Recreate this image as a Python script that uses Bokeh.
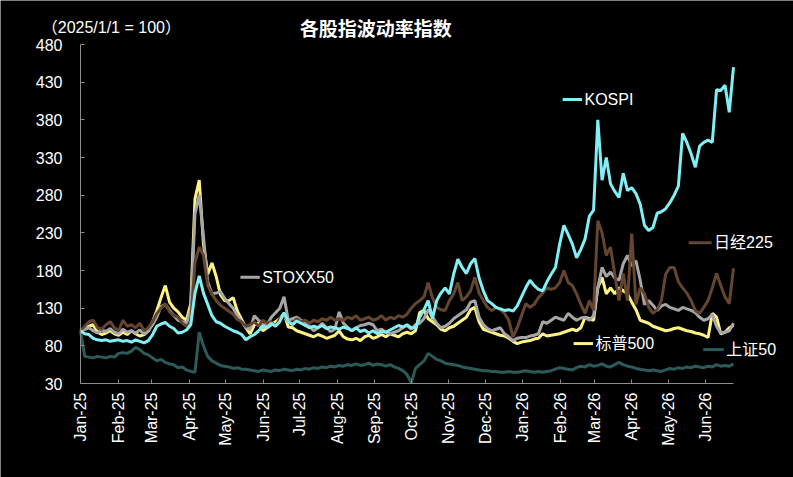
import pandas as pd
from math import pi
from bokeh.plotting import figure
from bokeh.models import (Range1d, FixedTicker, DatetimeTickFormatter, Label,
                          DatetimeAxis, LinearAxis)
from bokeh.embed import file_html
from bokeh.resources import INLINE

# ---------------- data (readings twice a week, 2025/1/1 = 100) ----------------
dates = pd.date_range("2025-01-01", periods=155, freq="84h")

kospi = [100, 96, 95, 90, 88, 87, 88, 86, 87, 88,
         86, 87, 85, 88, 86, 84, 87, 95, 106, 109,
         111, 106, 103, 97, 98, 101, 108, 150, 173, 150,
         135, 120, 112, 110, 106, 103, 100, 98, 95, 88,
         92, 95, 100, 106, 104, 110, 106, 112, 124, 112,
         108, 113, 110, 107, 104, 106, 104, 107, 103, 105,
         104, 102, 105, 103, 100, 104, 99, 101, 97, 100,
         96, 99, 98, 101, 104, 107, 105, 108, 104, 104,
         118, 128, 140, 116, 140, 150, 157, 149, 175, 195,
         184, 176, 189, 196, 170, 153, 140, 136, 131, 129,
         127, 128, 126, 133, 145, 157, 167, 160, 155, 153,
         165, 175, 184, 215, 240, 228, 215, 197, 208, 222,
         252, 260, 380, 300, 330, 295, 285, 277, 309, 286,
         290, 282, 268, 240, 233, 237, 256, 258, 262, 270,
         280, 292, 362, 350, 335, 317, 345, 350, 353, 350,
         420, 419, 426, 390, 450]

nikkei = [100, 106, 112, 114, 104, 102, 108, 112, 104, 100,
          114, 106, 108, 104, 110, 100, 104, 112, 123, 130,
          136, 125, 120, 118, 110, 106, 112, 190, 211, 200,
          160, 149, 140, 134, 130, 126, 122, 115, 112, 106,
          108, 112, 106, 114, 110, 112, 106, 116, 120, 112,
          110, 116, 112, 114, 110, 114, 112, 116, 114, 118,
          114, 116, 114, 118, 116, 120, 114, 116, 118, 114,
          116, 120, 114, 118, 116, 120, 118, 122, 130, 136,
          140, 145, 164, 144, 131, 128, 127, 140, 149, 164,
          140, 145, 153, 171, 150, 140, 131, 127, 131, 128,
          123, 114, 92, 104, 120, 136, 131, 135, 144, 150,
          157, 155, 157, 164, 180, 164, 160, 149, 135, 123,
          140, 127, 246, 230, 200, 211, 175, 140, 176, 140,
          229, 135, 157, 149, 131, 123, 128, 140, 175, 184,
          184, 165, 157, 150, 140, 127, 123, 131, 140, 157,
          176, 160, 145, 136, 183]

stoxx = [100, 102, 104, 100, 97, 101, 99, 103, 98, 96,
         102, 98, 100, 97, 101, 96, 100, 108, 118, 132,
         135, 127, 120, 114, 112, 110, 128, 255, 280, 225,
         165, 149, 150, 152, 143, 136, 130, 120, 112, 104,
         102, 120, 114, 108, 108, 118, 124, 130, 145, 114,
         116, 118, 114, 110, 106, 100, 104, 110, 104, 99,
         102, 125, 110, 105, 100, 104, 107, 108, 110, 108,
         100, 102, 98, 96, 98, 100, 104, 107, 102, 108,
         110, 116, 128, 118, 110, 104, 106, 110, 116, 120,
         124, 128, 138, 140, 118, 108, 103, 100, 102, 104,
         96, 92, 87, 90, 91, 91, 93, 94, 96, 112,
         110, 114, 118, 116, 114, 123, 118, 114, 117, 118,
         114, 120, 157, 184, 172, 178, 170, 167, 189, 200,
         186, 193, 167, 135, 140, 134, 127, 133, 135, 131,
         129, 127, 131, 129, 127, 124, 118, 114, 116, 122,
         106, 97, 98, 100, 110]

sp500 = [100, 104, 106, 108, 98, 95, 97, 100, 96, 94,
         98, 95, 100, 96, 93, 95, 100, 112, 127, 144,
         160, 138, 130, 125, 118, 114, 136, 275, 300, 215,
         175, 190, 172, 148, 140, 140, 144, 126, 115, 104,
         96, 108, 110, 100, 104, 108, 112, 116, 123, 105,
         104, 100, 98, 96, 94, 92, 95, 93, 90, 92,
         94, 100, 92, 89, 88, 90, 87, 92, 94, 90,
         92, 95, 92, 96, 94, 92, 96, 98, 96, 100,
         124, 127, 116, 112, 108, 102, 100, 104, 106, 110,
         114, 118, 128, 131, 112, 102, 100, 98, 96, 94,
         93, 90, 86, 83, 85, 86, 87, 89, 90, 96,
         93, 94, 95, 96, 98, 100, 102, 100, 104, 118,
         116, 114, 157, 171, 149, 157, 149, 157, 153, 149,
         138, 128, 114, 112, 110, 106, 104, 102, 100, 101,
         103, 104, 102, 100, 99, 97, 96, 94, 91, 123,
         118, 96, 98, 104, 107]

sse50 = [100, 66, 65, 64, 66, 65, 64, 66, 65, 70,
         71, 70, 73, 78, 75, 70, 68, 64, 60, 62,
         58, 56, 55, 51, 52, 48, 46, 45, 98, 80,
         66, 60, 57, 54, 53, 52, 50, 51, 49, 49,
         48, 47, 46, 48, 47, 46, 48, 47, 49, 48,
         47, 49, 48, 50, 49, 51, 50, 52, 51, 53,
         52, 54, 53, 55, 54, 56, 54, 55, 57, 54,
         56, 55, 53, 55, 52, 50, 47, 42, 31, 50,
         55, 60, 70, 66, 62, 60, 57, 56, 55, 54,
         52, 51, 50, 49, 48, 47, 47, 46, 46, 45,
         45, 46, 45, 45, 46, 47, 46, 45, 46, 45,
         46, 47, 49, 51, 50, 49, 48, 51, 53, 52,
         55, 53, 54, 56, 53, 52, 55, 58, 55, 53,
         52, 50, 49, 48, 47, 48, 47, 46, 48, 50,
         49, 51, 50, 52, 51, 53, 52, 51, 53, 52,
         55, 53, 54, 53, 56]

for s in (kospi, nikkei, stoxx, sp500, sse50):
    assert len(s) == len(dates), len(s)

month_ticks = pd.date_range("2025-01-01", "2026-06-01", freq="MS")
y_ticks = list(range(30, 481, 50))

# ---------------- styling ----------------
C_KOSPI = "#80F0F5"
C_NIKKEI = "#634530"
C_STOXX = "#A6A6A6"
C_SP = "#FFF284"
C_SSE = "#2C5A58"
FONT = "Liberation Sans, Noto Sans CJK SC"


def ms(s):
    return pd.Timestamp(s).timestamp() * 1000.0


DAY = 86400000.0
X0, X1 = ms("2025-01-01"), ms("2026-06-24")
# canvas geometry: axes from px 80..733 (x) and 383..44 (y)
px_per_day = 653.0 / 539.0
u_per_px = 450.0 / 339.0
x_start = X0 - 80.0 / px_per_day * DAY
x_end = X0 + (793.0 - 80.0) / px_per_day * DAY
y_start = 30 - (477 - 383) * u_per_px
y_end = 480 + 44 * u_per_px

p = figure(width=793, height=477, output_backend="svg", toolbar_location=None,
           x_axis_type="datetime", x_axis_location=None, y_axis_location=None,
           x_range=Range1d(x_start, x_end), y_range=Range1d(y_start, y_end),
           background_fill_color="black", border_fill_color="black",
           min_border=0)
p.outline_line_color = None
p.grid.visible = False

x = [t.timestamp() * 1000.0 for t in dates]
lw = 3
p.line(x, sse50, line_color=C_SSE, line_width=lw)
p.line(x, sp500, line_color=C_SP, line_width=lw)
p.line(x, stoxx, line_color=C_STOXX, line_width=lw)
p.line(x, nikkei, line_color=C_NIKKEI, line_width=lw)
p.line(x, kospi, line_color=C_KOSPI, line_width=lw)

xaxis = DatetimeAxis(fixed_location=30, bounds=(X0, X1))
yaxis = LinearAxis(fixed_location=X0, bounds=(30, 480))
for ax in (xaxis, yaxis):
    ax.axis_line_color = "#8C8C8C"
    ax.major_tick_line_color = "#8C8C8C"
    ax.major_tick_in = 4
    ax.major_tick_out = 0
    ax.minor_tick_line_color = None
    ax.major_label_text_color = "white"
    ax.major_label_text_font = FONT
    ax.major_label_text_font_size = "16px"

yaxis.ticker = FixedTicker(ticks=y_ticks)
yaxis.major_label_standoff = 18

xaxis.ticker = FixedTicker(ticks=[t.timestamp() * 1000.0 for t in month_ticks])
xaxis.formatter = DatetimeTickFormatter(years="%b-%y", months="%b-%y",
                                        days="%b-%y", hours="%b-%y")
xaxis.major_label_orientation = pi / 2
xaxis.major_label_standoff = 9

p.add_layout(xaxis, "below")
p.add_layout(yaxis, "left")

# inline legend labels
legend_items = [
    ("KOSPI", C_KOSPI, "2026-02-03", "2026-02-19", "2026-02-21", 407),
    ("日经225", C_NIKKEI, "2026-05-18", "2026-06-06", "2026-06-08", 217),
    ("STOXX50", C_STOXX, "2025-05-13", "2025-05-29", "2025-05-31", 171),
    ("标普500", C_SP, "2026-02-12", "2026-02-28", "2026-03-02", 83),
    ("上证50", C_SSE, "2026-05-30", "2026-06-16", "2026-06-18", 75),
]
for name, col, x0, x1, xt, yv in legend_items:
    p.segment(x0=[ms(x0)], y0=[yv], x1=[ms(x1)], y1=[yv], line_color=col, line_width=3)
    p.add_layout(Label(x=ms(xt), y=yv, text=name, text_color="white",
                       text_font=FONT, text_font_size="16px",
                       text_baseline="middle", text_align="left"))

# titles
p.add_layout(Label(x=ms("2024-11-30"), y=503, text="（2025/1/1 = 100）",
                   text_color="white", text_font=FONT, text_font_size="16px",
                   text_baseline="middle", text_align="left"))
p.add_layout(Label(x=ms("2025-07-01"), y=503, text="各股指波动率指数",
                   text_color="white", text_font="Noto Sans CJK SC",
                   text_font_size="19px", text_font_style="bold",
                   text_baseline="middle", text_align="left"))

open("out.html", "w").write(file_html(p, INLINE))
